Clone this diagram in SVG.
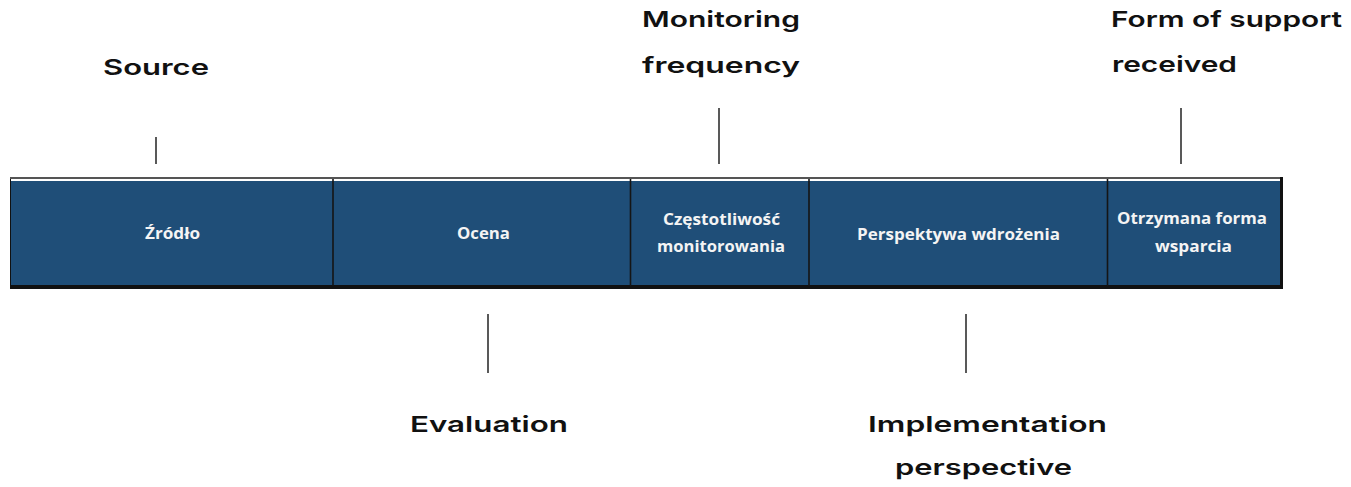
<svg xmlns="http://www.w3.org/2000/svg" width="1351" height="487" viewBox="0 0 1351 487">
<style>
.lbl{font-family:Inter,"Liberation Sans",sans-serif;font-weight:600;font-size:22px;fill:#111}
.cell{font-family:"Open Sans","Noto Sans","Liberation Sans",sans-serif;font-weight:700;font-size:16.5px;fill:#f4f4f4}
.tick{stroke:#222;stroke-width:1.5}
.div{stroke:#151515;stroke-width:1.6}
</style>
<rect width="1351" height="487" fill="#ffffff"/>
<g id="table">
<rect x="10" y="177" width="1273" height="112" fill="#111"/>
<rect x="10" y="177" width="1270" height="2" fill="#555"/>
<rect x="11" y="179" width="1269" height="2" fill="#ffffff"/>
<rect x="11" y="181" width="1269" height="104" fill="#1f4e78"/>
</g>
<g id="dividers">
<line class="div" x1="333" y1="179" x2="333" y2="286"/>
<line class="div" x1="630.5" y1="179" x2="630.5" y2="286"/>
<line class="div" x1="809" y1="179" x2="809" y2="286"/>
<line class="div" x1="1107.5" y1="179" x2="1107.5" y2="286"/>
</g>
<g id="cell-zrodlo"><text class="cell" x="145" y="239" textLength="55" lengthAdjust="spacingAndGlyphs">Źródło</text></g>
<g id="cell-ocena"><text class="cell" x="457" y="239" textLength="53" lengthAdjust="spacingAndGlyphs">Ocena</text></g>
<g id="cell-czest">
<text class="cell" x="663" y="225" textLength="117" lengthAdjust="spacingAndGlyphs">Częstotliwość</text>
<text class="cell" x="657" y="252" textLength="128" lengthAdjust="spacingAndGlyphs">monitorowania</text>
</g>
<g id="cell-persp"><text class="cell" x="857" y="240" textLength="203" lengthAdjust="spacingAndGlyphs">Perspektywa wdrożenia</text></g>
<g id="cell-otrz">
<text class="cell" x="1117" y="224" textLength="150" lengthAdjust="spacingAndGlyphs">Otrzymana forma</text>
<text class="cell" x="1155" y="252" textLength="77" lengthAdjust="spacingAndGlyphs">wsparcia</text>
</g>
<g id="connectors">
<line class="tick" x1="156" y1="137" x2="156" y2="164"/>
<line class="tick" x1="719" y1="108" x2="719" y2="164"/>
<line class="tick" x1="1181" y1="108" x2="1181" y2="164"/>
<line class="tick" x1="488" y1="314" x2="488" y2="373"/>
<line class="tick" x1="966" y1="314" x2="966" y2="373"/>
</g>
<g id="label-source"><text class="lbl" x="103" y="75" textLength="106" lengthAdjust="spacingAndGlyphs">Source</text></g>
<g id="label-monitoring">
<text class="lbl" x="642" y="27" textLength="158" lengthAdjust="spacingAndGlyphs">Monitoring</text>
<text class="lbl" x="642" y="73" textLength="158" lengthAdjust="spacingAndGlyphs">frequency</text>
</g>
<g id="label-form">
<text class="lbl" x="1111" y="27" textLength="231" lengthAdjust="spacingAndGlyphs">Form of support</text>
<text class="lbl" x="1112" y="72" textLength="125" lengthAdjust="spacingAndGlyphs">received</text>
</g>
<g id="label-evaluation"><text class="lbl" x="410" y="432" textLength="158" lengthAdjust="spacingAndGlyphs">Evaluation</text></g>
<g id="label-implementation">
<text class="lbl" x="868" y="432" textLength="239" lengthAdjust="spacingAndGlyphs">Implementation</text>
<text class="lbl" x="895" y="475" textLength="177" lengthAdjust="spacingAndGlyphs">perspective</text>
</g>
</svg>
